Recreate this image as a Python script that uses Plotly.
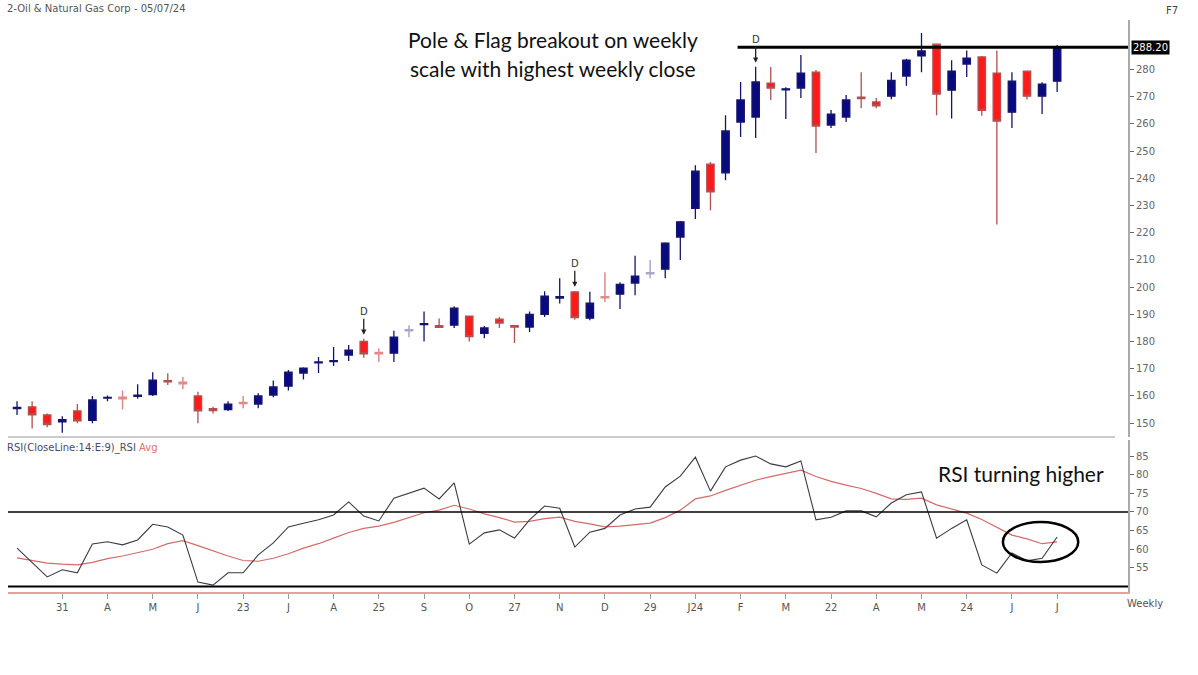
import plotly.graph_objects as go

# ---------------- data ----------------
opens = [155.3, 156.0, 153.0, 150.5, 154.5, 151.0, 159.2, 159.5, 159.8, 160.5,
         165.6, 165.0, 160.0, 155.3, 155.0, 157.6, 157.0, 160.3, 163.6, 168.4,
         172.2, 172.6, 175.0, 180.0, 176.0, 175.7, 184.0, 186.2, 185.8, 186.0,
         189.3, 183.0, 188.2, 185.8, 185.3, 190.0, 196.0, 198.2, 188.6, 196.5,
         197.4, 201.5, 204.9, 206.6, 218.4, 229.0, 245.2, 242.0, 260.7, 262.5,
         275.0, 272.5, 273.2, 279.0, 259.6, 262.5, 269.8, 268.1, 270.2, 277.6,
         285.0, 289.3, 272.4, 282.0, 284.6, 278.7, 264.3, 279.4, 270.2, 275.7]
highs = [158.0, 158.0, 153.5, 152.5, 157.0, 160.0, 160.2, 162.0, 164.3, 168.7,
         168.3, 167.0, 161.5, 156.0, 158.0, 160.0, 161.0, 165.7, 169.5, 170.5,
         174.3, 178.0, 178.7, 181.0, 177.5, 184.0, 186.0, 191.0, 188.5, 193.0,
         189.5, 185.7, 189.0, 186.0, 191.0, 198.5, 203.3, 198.6, 198.3, 205.5,
         201.8, 211.5, 210.0, 216.5, 224.3, 244.8, 246.0, 263.2, 275.4, 281.0,
         280.9, 273.5, 285.3, 279.8, 265.1, 270.6, 279.0, 269.5, 279.0, 284.0,
         293.4, 289.5, 283.4, 287.0, 285.0, 287.0, 279.0, 279.5, 275.3, 289.0]
lows = [153.0, 148.0, 148.5, 146.5, 150.0, 150.0, 158.0, 155.0, 159.0, 160.0,
        164.0, 162.5, 150.0, 153.5, 154.5, 155.5, 155.5, 159.5, 162.0, 166.0,
        168.4, 171.0, 172.8, 174.0, 172.5, 172.5, 181.6, 180.0, 185.0, 185.0,
        180.0, 181.2, 185.0, 179.5, 183.5, 189.0, 194.0, 188.0, 187.8, 194.5,
        192.0, 197.0, 203.3, 203.3, 210.0, 225.0, 228.3, 239.3, 255.2, 254.8,
        268.8, 261.8, 269.5, 249.3, 258.5, 260.7, 265.8, 265.8, 269.1, 274.0,
        279.0, 263.2, 262.0, 277.2, 263.0, 223.0, 258.5, 269.0, 263.6, 271.7]
closes = [155.8, 153.0, 149.5, 151.3, 150.8, 158.5, 159.5, 159.0, 160.3, 165.8,
          165.2, 164.5, 154.5, 154.6, 157.0, 157.2, 160.0, 163.3, 168.7, 170.2,
          172.5, 173.0, 176.8, 175.5, 175.5, 181.6, 184.3, 186.6, 185.2, 192.3,
          181.8, 185.0, 186.8, 185.3, 190.0, 196.7, 196.5, 188.8, 194.1, 196.1,
          201.0, 204.0, 205.3, 216.2, 224.0, 242.6, 235.0, 257.4, 268.8, 275.4,
          273.2, 272.9, 278.7, 259.2, 263.6, 268.8, 269.3, 266.6, 276.0, 283.4,
          286.8, 271.0, 279.4, 284.2, 265.0, 261.0, 275.7, 270.2, 274.6, 288.2]
light_candles = [7, 11, 15, 24, 26, 39, 42]

rsi = [60.3, 56.5, 52.6, 54.5, 53.7, 61.4, 62.0, 61.2, 62.5, 66.7,
       66.0, 63.8, 51.2, 50.4, 53.7, 53.7, 58.5, 61.7, 66.0, 67.0,
       67.9, 69.2, 72.7, 68.9, 67.6, 73.7, 75.0, 76.4, 73.5, 77.8,
       61.4, 64.4, 65.2, 63.0, 67.9, 71.6, 71.0, 60.6, 64.6, 65.6,
       69.2, 70.8, 71.3, 76.7, 79.6, 84.7, 75.6, 82.1, 83.9, 85.0,
       82.9, 82.1, 83.7, 67.9, 68.6, 70.3, 70.3, 68.7, 72.4, 74.6,
       75.4, 63.0, 65.6, 67.9, 55.8, 53.6, 59.0, 56.9, 57.6, 63.3]
rsi_avg = [57.7, 57.0, 56.3, 56.0, 55.8, 56.5, 57.5, 58.2, 59.0, 60.0,
           61.5, 62.3, 61.0, 59.5, 58.2, 57.0, 56.8, 57.6, 58.8, 60.3,
           61.5, 63.0, 64.5, 65.6, 66.2, 67.2, 68.5, 69.8, 70.5, 71.8,
           70.8, 69.5, 68.5, 67.3, 67.5, 68.2, 68.6, 67.5, 66.8, 66.0,
           66.2, 66.6, 67.0, 68.5, 70.5, 73.5, 74.3, 75.8, 77.2, 78.5,
           79.5, 80.4, 81.2, 79.5, 78.2, 77.2, 76.3, 75.0, 73.5, 73.4,
           73.7, 71.9, 70.7, 69.7, 68.0, 66.0, 63.8, 62.8, 61.5, 62.0]

tick_idx = [3, 6, 9, 12, 15, 18, 21, 24, 27, 30, 33, 36, 39, 42, 45, 48, 51,
            54, 57, 60, 63, 66, 69]
tick_text = ["31", "A", "M", "J", "23", "J", "A", "25", "S", "O", "27", "N",
             "D", "29", "J24", "F", "M", "22", "A", "M", "24", "J", "J"]
price_ticks = [150, 160, 170, 180, 190, 200, 210, 220, 230, 240, 250, 260, 270, 280]
rsi_ticks = [55, 60, 65, 70, 75, 80, 85]
dividend_idx = [23, 37, 49]
breakout_level = 288.2
rsi_levels = [70, 50]

# ---------------- figure ----------------
W, H = 1198, 675
n = len(closes)
idx = list(range(n))
main = [i for i in idx if i not in light_candles]
light = [i for i in idx if i in light_candles]

def pick(arr, ids):
    return [arr[i] for i in ids]

fig = go.Figure()
fig.add_trace(go.Candlestick(
    x=main, open=pick(opens, main), high=pick(highs, main),
    low=pick(lows, main), close=pick(closes, main),
    increasing=dict(line=dict(color="#14146E", width=1.3), fillcolor="#0A0A80"),
    decreasing=dict(line=dict(color="#B05050", width=1.3), fillcolor="#FF1A1A"),
    xaxis="x", yaxis="y", showlegend=False, hoverinfo="skip"))
fig.add_trace(go.Candlestick(
    x=light, open=pick(opens, light), high=pick(highs, light),
    low=pick(lows, light), close=pick(closes, light),
    increasing=dict(line=dict(color="#A8A8CC", width=1.5), fillcolor="#A8A8CC"),
    decreasing=dict(line=dict(color="#E08A8A", width=1.5), fillcolor="#E08A8A"),
    xaxis="x", yaxis="y", showlegend=False, hoverinfo="skip"))

fig.add_trace(go.Scatter(x=idx, y=rsi_avg, mode="lines",
                         line=dict(color="#D46A6A", width=1.2),
                         xaxis="x", yaxis="y2", showlegend=False))
fig.add_trace(go.Scatter(x=idx, y=rsi, mode="lines",
                         line=dict(color="#3A3A4A", width=1.1),
                         xaxis="x", yaxis="y2", showlegend=False))

xl, xr = 8 / W, 1128 / W
x_range = [-0.6, 73.7]

shapes = [
    dict(type="line", xref="x", yref="y", x0=47.8, x1=x_range[1],
         y0=breakout_level, y1=breakout_level, line=dict(color="black", width=3)),
    dict(type="line", xref="paper", yref="y2", x0=xl, x1=xr,
         y0=rsi_levels[0], y1=rsi_levels[0], line=dict(color="black", width=1.5)),
    dict(type="line", xref="paper", yref="y2", x0=xl, x1=xr,
         y0=rsi_levels[1], y1=rsi_levels[1], line=dict(color="black", width=2)),
    dict(type="line", xref="paper", yref="paper", x0=xl, x1=1115 / W,
         y0=1 - 437 / H, y1=1 - 437 / H, line=dict(color="#BBBBBB", width=1.5)),
    dict(type="circle", xref="x", yref="y2", x0=65.4, x1=70.4, y0=56.6, y1=67.3,
         line=dict(color="black", width=2.5)),
]

ann = [
    dict(xref="paper", yref="paper", x=5 / W, y=1 - 8 / H, xanchor="left",
         yanchor="middle", showarrow=False, text="2-Oil & Natural Gas Corp - 05/07/24",
         font=dict(family="DejaVu Sans", size=10, color="#555555")),
    dict(xref="paper", yref="paper", x=1172 / W, y=1 - 10 / H, xanchor="center",
         yanchor="middle", showarrow=False, text="F7",
         font=dict(family="DejaVu Sans", size=10, color="#444444")),
    dict(xref="paper", yref="paper", x=553 / W, y=1 - 40 / H, xanchor="center",
         yanchor="middle", showarrow=False, text="Pole & Flag breakout on weekly",
         font=dict(family="Lato", size=21, color="#111111")),
    dict(xref="paper", yref="paper", x=553 / W, y=1 - 68 / H, xanchor="center",
         yanchor="middle", showarrow=False, text="scale with highest weekly close",
         font=dict(family="Lato", size=21, color="#111111")),
    dict(xref="paper", yref="paper", x=1021 / W, y=1 - 473 / H, xanchor="center",
         yanchor="middle", showarrow=False, text="RSI turning higher",
         font=dict(family="Lato", size=21, color="#111111")),
    dict(xref="paper", yref="paper", x=5 / W, y=1 - 448 / H, xanchor="left",
         yanchor="middle", showarrow=False,
         text='<span style="color:#4A4A66">RSI(CloseLine:14:E:9)_RSI</span> '
              '<span style="color:#E07070">Avg</span>',
         font=dict(family="DejaVu Sans", size=10)),
    dict(xref="paper", yref="paper", x=1145 / W, y=1 - 603 / H, xanchor="center",
         yanchor="middle", showarrow=False, text="Weekly",
         font=dict(family="DejaVu Sans", size=10, color="#555555")),
    dict(xref="paper", yref="y", x=1131 / W, y=breakout_level, xanchor="left",
         yanchor="middle", showarrow=False, text="288.20", bgcolor="black",
         borderpad=1, font=dict(family="DejaVu Sans", size=10, color="white")),
]
for i in dividend_idx:
    ann.append(dict(xref="x", yref="y", x=i, y=highs[i] + 1.5, text="D",
                    showarrow=True, arrowhead=2, arrowsize=0.8, arrowwidth=1.3,
                    arrowcolor="#222222", ax=0, ay=-16, yanchor="bottom",
                    font=dict(family="DejaVu Sans", size=10, color="#333333")))

fig.update_layout(
    width=W, height=H, margin=dict(l=0, r=0, t=0, b=0),
    paper_bgcolor="white", plot_bgcolor="white", showlegend=False,
    shapes=shapes, annotations=ann,
    xaxis=dict(domain=[xl, xr], range=x_range, anchor="y2",
               rangeslider=dict(visible=False), showgrid=False, zeroline=False,
               showline=True, linecolor="#E8A0A0", linewidth=1.5,
               tickmode="array", tickvals=tick_idx, ticktext=tick_text,
               ticks="outside", ticklen=5, tickcolor="#999999",
               tickfont=dict(family="DejaVu Sans", size=10, color="#555555")),
    yaxis=dict(domain=[1 - 437 / H, 1 - 20 / H], range=[144.9, 298.2],
               side="right", anchor="x", showgrid=False, zeroline=False,
               showline=True, linecolor="#AAAAAA", linewidth=2,
               tickmode="array", tickvals=price_ticks,
               ticks="outside", ticklen=4, tickcolor="#666666",
               tickfont=dict(family="DejaVu Sans", size=10, color="#666666")),
    yaxis2=dict(domain=[1 - 592 / H, 1 - 440 / H], range=[48.55, 89.3],
                side="right", anchor="x", showgrid=False, zeroline=False,
                showline=True, linecolor="#AAAAAA", linewidth=2,
                tickmode="array", tickvals=rsi_ticks,
                ticks="outside", ticklen=4, tickcolor="#666666",
                tickfont=dict(family="DejaVu Sans", size=10, color="#666666")),
)

fig.write_html("out.html")
